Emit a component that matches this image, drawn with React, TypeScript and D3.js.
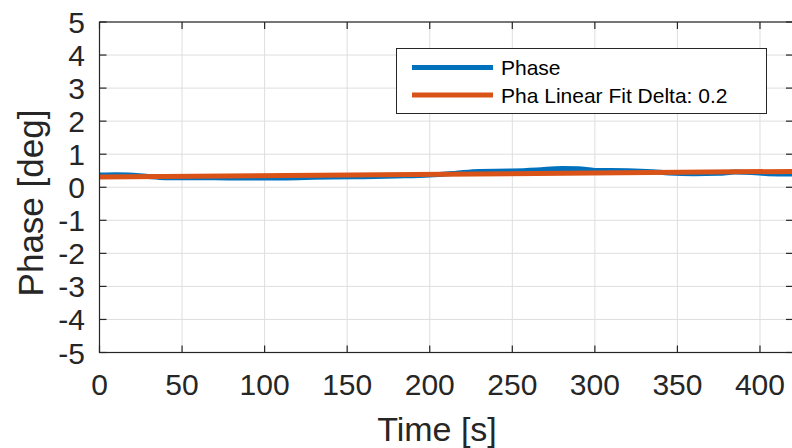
import React from "react";
import * as d3 from "d3";

const timeS = [0, 10, 18, 28, 40, 60, 80, 100, 120, 140, 160, 180, 200, 215, 230, 250, 265, 280, 290, 300, 320, 335, 345, 360, 375, 385, 395, 405, 420];
const phaseDeg = [0.37, 0.38, 0.37, 0.33, 0.29, 0.29, 0.28, 0.28, 0.29, 0.31, 0.32, 0.34, 0.37, 0.42, 0.48, 0.49, 0.52, 0.57, 0.56, 0.51, 0.5, 0.47, 0.43, 0.41, 0.42, 0.46, 0.45, 0.41, 0.4];
const fitTime = [0, 420];
const fitDeg = [0.31, 0.48];
const xTicks = [0, 50, 100, 150, 200, 250, 300, 350, 400];
const yTicks = [-5, -4, -3, -2, -1, 0, 1, 2, 3, 4, 5];
const legendLabels = ["Phase", "Pha Linear Fit Delta: 0.2"];
const xLabel = "Time [s]";
const yLabel = "Phase [deg]";

const W = 792;
const H = 448;
const L = 99.5, R = 793, T = 22, B = 352.5;
const AX = "#262626";
const BLUE = "#0072BD";
const ORANGE = "#D95319";
const FONT = "'Liberation Sans', Arial, Helvetica, sans-serif";

export default function App() {
  const x = d3.scaleLinear().domain([0, 420]).range([L, R]);
  const y = d3.scaleLinear().domain([-5, 5]).range([B, T]);
  const line = d3
    .line<number>()
    .x((_, i) => x(timeS[i]))
    .y((d) => y(d))
    .curve(d3.curveMonotoneX);
  const fitLine = d3
    .line<number>()
    .x((_, i) => x(fitTime[i]))
    .y((d) => y(d));
  const tl = 7;
  return (
    <svg width={W} height={H} style={{ position: "absolute", left: 0, top: 0, background: "#fff" }}>
      <defs>
        <clipPath id="plotclip">
          <rect x={L} y={T} width={R - L} height={B - T} />
        </clipPath>
      </defs>
      <rect x={0} y={0} width={W} height={H} fill="#fff" />
      {/* grid */}
      {xTicks.map((t) => (
        <line key={"gx" + t} x1={x(t)} x2={x(t)} y1={T} y2={B} stroke="#dedede" strokeWidth={1} />
      ))}
      {yTicks.map((t) => (
        <line key={"gy" + t} x1={L} x2={R} y1={y(t)} y2={y(t)} stroke="#dedede" strokeWidth={1} />
      ))}
      {/* data */}
      <g clipPath="url(#plotclip)">
        <path d={line(phaseDeg) || ""} fill="none" stroke={BLUE} strokeWidth={5} strokeLinejoin="round" />
        <path d={fitLine(fitDeg) || ""} fill="none" stroke={ORANGE} strokeWidth={5} />
      </g>
      {/* axes box */}
      <rect x={L} y={T} width={R - L} height={B - T} fill="none" stroke={AX} strokeWidth={1.2} />
      {xTicks.map((t) => (
        <g key={"tx" + t}>
          <line x1={x(t)} x2={x(t)} y1={B} y2={B - tl} stroke={AX} strokeWidth={1.2} />
          <line x1={x(t)} x2={x(t)} y1={T} y2={T + tl} stroke={AX} strokeWidth={1.2} />
          <text x={x(t)} y={395} textAnchor="middle" fontFamily={FONT} fontSize={30} fill={AX}>
            {t}
          </text>
        </g>
      ))}
      {yTicks.map((t) => (
        <g key={"ty" + t}>
          <line x1={L} x2={L + tl} y1={y(t)} y2={y(t)} stroke={AX} strokeWidth={1.2} />
          <line x1={R} x2={R - tl} y1={y(t)} y2={y(t)} stroke={AX} strokeWidth={1.2} />
          <text x={85} y={y(t) + 11} textAnchor="end" fontFamily={FONT} fontSize={30} fill={AX}>
            {t}
          </text>
        </g>
      ))}
      {/* axis labels */}
      <text x={437} y={441} textAnchor="middle" fontFamily={FONT} fontSize={34} fill={AX}>
        {xLabel}
      </text>
      <text
        transform={`translate(43,203) rotate(-90)`}
        textAnchor="middle"
        fontFamily={FONT}
        fontSize={35}
        fill={AX}
      >
        {yLabel}
      </text>
      {/* legend */}
      <rect x={396.5} y={48.5} width={370} height={65} fill="#fff" stroke={AX} strokeWidth={1} />
      <line x1={412} x2={493} y1={67.5} y2={67.5} stroke={BLUE} strokeWidth={5} />
      <line x1={412} x2={493} y1={95} y2={95} stroke={ORANGE} strokeWidth={5} />
      <text x={501} y={75} fontFamily={FONT} fontSize={21} fill="#000">
        {legendLabels[0]}
      </text>
      <text x={501} y={103} fontFamily={FONT} fontSize={21} fill="#000">
        {legendLabels[1]}
      </text>
    </svg>
  );
}
